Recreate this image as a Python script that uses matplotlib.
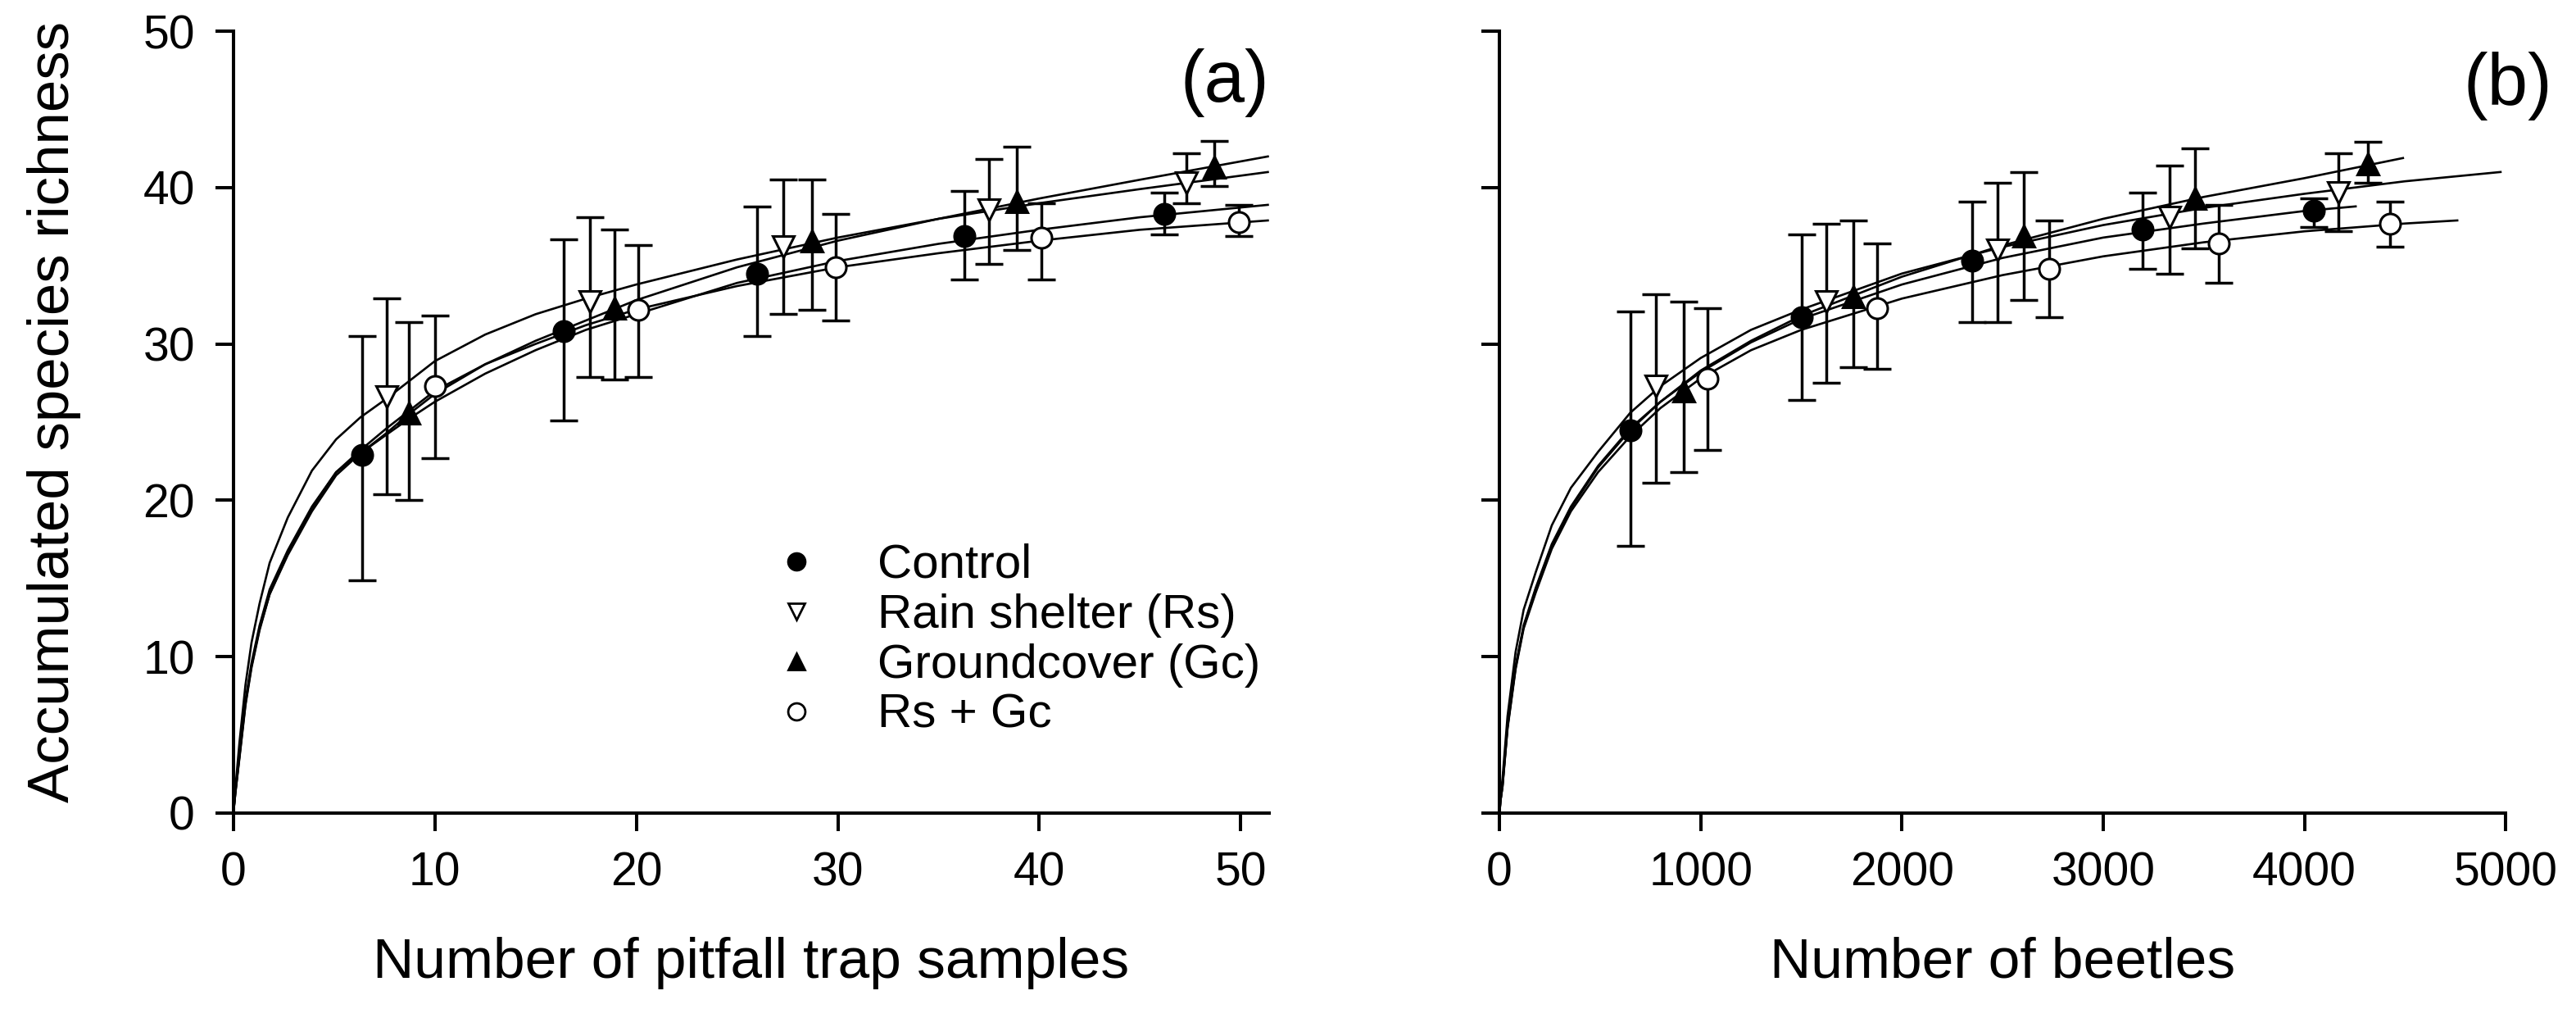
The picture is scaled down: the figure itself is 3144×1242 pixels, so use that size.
import numpy as np
import matplotlib
matplotlib.use('Agg')
import matplotlib.pyplot as plt
from matplotlib.lines import Line2D

plt.rcParams['font.family'] = ['Liberation Sans', 'DejaVu Sans']

treatments = ['Control', 'Rain shelter (Rs)', 'Groundcover (Gc)', 'Rs + Gc']

# ---- Panel (a): accumulated richness vs pitfall trap samples ----
a_x = {
    'Control': [6.4, 16.4, 26.0, 36.3, 46.2],
    'Rain shelter (Rs)': [7.6, 17.7, 27.3, 37.5, 47.3],
    'Groundcover (Gc)': [8.7, 18.9, 28.7, 38.9, 48.7],
    'Rs + Gc': [10.0, 20.1, 29.9, 40.1, 49.9],
}
a_y = {
    'Control': [22.9, 30.8, 34.5, 36.9, 38.3],
    'Rain shelter (Rs)': [26.6, 32.7, 36.2, 38.6, 40.3],
    'Groundcover (Gc)': [25.6, 32.3, 36.6, 39.1, 41.3],
    'Rs + Gc': [27.3, 32.2, 34.9, 36.8, 37.8],
}
a_lo = {
    'Control': [14.9, 25.1, 30.5, 34.1, 37.0],
    'Rain shelter (Rs)': [20.4, 27.9, 31.9, 35.1, 39.0],
    'Groundcover (Gc)': [20.0, 27.7, 32.2, 36.0, 40.1],
    'Rs + Gc': [22.7, 27.9, 31.5, 34.1, 36.9],
}
a_hi = {
    'Control': [30.5, 36.7, 38.8, 39.8, 39.7],
    'Rain shelter (Rs)': [32.9, 38.1, 40.5, 41.8, 42.2],
    'Groundcover (Gc)': [31.4, 37.3, 40.5, 42.6, 43.0],
    'Rs + Gc': [31.8, 36.3, 38.3, 39.0, 38.9],
}
# accumulation curves
a_curve_x = [0, 0.1, 0.3, 0.6, 0.9, 1.3, 1.8, 2.7, 3.9, 5.1, 6.3, 7.6, 8.7, 10,
             12.5, 15, 17.5, 20, 25, 30, 35, 40, 45, 51.4]
a_curve_y = {
    'Control': [0, 1.4, 3.7, 7.2, 9.6, 12.0, 14.3, 16.8, 19.6, 21.8, 23.0, 24.2, 25.2, 26.3,
                28.1, 29.6, 30.9, 31.9, 33.9, 35.3, 36.4, 37.3, 38.1, 38.9],
    'Rain shelter (Rs)': [0, 1.6, 4.5, 8.2, 10.9, 13.4, 16.0, 18.9, 21.9, 23.9, 25.3, 26.5, 27.6, 28.9,
                          30.6, 31.9, 32.9, 33.8, 35.4, 36.8, 38.0, 39.0, 39.9, 41.0],
    'Groundcover (Gc)': [0, 1.3, 3.6, 7.0, 9.4, 11.8, 14.0, 16.5, 19.3, 21.6, 23.0, 24.3, 25.5, 26.8,
                         28.7, 30.2, 31.5, 32.8, 34.9, 36.6, 38.0, 39.3, 40.5, 42.0],
    'Rs + Gc': [0, 1.3, 3.5, 6.9, 9.3, 11.7, 14.0, 16.6, 19.5, 21.8, 23.2, 24.6, 25.7, 27.0,
                28.7, 30.0, 31.2, 32.2, 33.7, 34.9, 35.8, 36.6, 37.3, 37.9],
}

# ---- Panel (b): accumulated richness vs number of beetles ----
b_x = {
    'Control': [650, 1500, 2350, 3195, 4045],
    'Rain shelter (Rs)': [776, 1625, 2475, 3330, 4170],
    'Groundcover (Gc)': [915, 1760, 2605, 3458, 4315],
    'Rs + Gc': [1032, 1877, 2730, 3575, 4425],
}
b_y = {
    'Control': [24.5, 31.7, 35.3, 37.3, 38.5],
    'Rain shelter (Rs)': [27.3, 32.7, 36.0, 38.1, 39.7],
    'Groundcover (Gc)': [27.0, 33.0, 36.9, 39.3, 41.5],
    'Rs + Gc': [27.8, 32.3, 34.8, 36.4, 37.7],
}
b_lo = {
    'Control': [17.1, 26.4, 31.4, 34.8, 37.5],
    'Rain shelter (Rs)': [21.1, 27.5, 31.4, 34.5, 37.2],
    'Groundcover (Gc)': [21.8, 28.5, 32.8, 36.1, 40.3],
    'Rs + Gc': [23.2, 28.4, 31.7, 33.9, 36.2],
}
b_hi = {
    'Control': [32.1, 37.0, 39.1, 39.7, 39.3],
    'Rain shelter (Rs)': [33.2, 37.7, 40.3, 41.4, 42.2],
    'Groundcover (Gc)': [32.7, 37.9, 41.0, 42.5, 42.9],
    'Rs + Gc': [32.3, 36.4, 37.9, 38.9, 39.1],
}
b_curve_x = {
    'Control': [0, 5, 15, 40, 80, 120, 180, 260, 355, 490, 650, 800, 1000, 1250, 1500,
                2000, 2500, 3000, 3500, 4000, 4260],
    'Rain shelter (Rs)': [0, 5, 15, 40, 80, 120, 180, 260, 355, 490, 650, 800, 1000, 1250, 1500,
                          2000, 2500, 3000, 3500, 4000, 4500, 4980],
    'Groundcover (Gc)': [0, 5, 15, 40, 80, 120, 180, 260, 355, 490, 650, 800, 1000, 1250, 1500,
                         2000, 2500, 3000, 3500, 4000, 4495],
    'Rs + Gc': [0, 5, 15, 40, 80, 120, 180, 260, 355, 490, 650, 800, 1000, 1250, 1500,
                2000, 2500, 3000, 3500, 4000, 4500, 4765],
}
b_curve_y = {
    'Control': [0, 0.8, 1.8, 5.6, 9.4, 12.0, 14.4, 17.2, 19.6, 22.2, 24.6, 26.3, 28.2, 30.1, 31.6,
                33.8, 35.5, 36.8, 37.7, 38.5, 38.8],
    'Rain shelter (Rs)': [0, 1.0, 2.2, 6.2, 10.3, 13.0, 15.4, 18.4, 20.8, 23.1, 25.6, 27.3, 29.1, 30.9, 32.2,
                          34.5, 36.2, 37.6, 38.7, 39.6, 40.4, 41.0],
    'Groundcover (Gc)': [0, 0.8, 1.7, 5.5, 9.3, 11.9, 14.3, 17.1, 19.5, 22.1, 24.5, 26.3, 28.3, 30.2, 31.8,
                         34.3, 36.3, 38.0, 39.4, 40.6, 41.9],
    'Rs + Gc': [0, 0.8, 1.7, 5.4, 9.2, 11.8, 14.1, 16.9, 19.3, 21.8, 24.1, 25.9, 27.8, 29.6, 30.9,
                32.9, 34.4, 35.6, 36.5, 37.2, 37.7, 37.9],
}

markers = {
    'Control': ('o', 'black', 18),
    'Rain shelter (Rs)': ('v', 'white', 19),
    'Groundcover (Gc)': ('^', 'black', 19),
    'Rs + Gc': ('o', 'white', 18),
}


def draw_panel(ax, cx, cy, px, py, lo, hi):
    for t in treatments:
        xs = cx[t] if isinstance(cx, dict) else cx
        ax.plot(xs, cy[t], color='black', lw=1.9, zorder=2, solid_capstyle='butt')
    for t in treatments:
        y = np.array(py[t])
        yerr = [y - np.array(lo[t]), np.array(hi[t]) - y]
        ax.errorbar(px[t], y, yerr=yerr, fmt='none', ecolor='black',
                    elinewidth=2.5, capsize=12, capthick=2.5, zorder=3)
        m, fc, ms = markers[t]
        ax.plot(px[t], y, linestyle='none', marker=m, markersize=ms,
                markerfacecolor=fc, markeredgecolor='black', markeredgewidth=2.2, zorder=4)
    ax.set_ylim(0, 50)
    ax.set_yticks(np.arange(0, 51, 10))
    for s in ['top', 'right']:
        ax.spines[s].set_visible(False)
    for s in ['left', 'bottom']:
        ax.spines[s].set_linewidth(2.9)
    ax.tick_params(direction='out', length=15.8, width=2.9, labelsize=41, pad=18)


fig = plt.figure(figsize=(31.44, 12.42), dpi=100)
ax_a = fig.add_axes([0.0906, 0.2013, 0.4020, 0.7681])
ax_b = fig.add_axes([0.5821, 0.2013, 0.3906, 0.7681])

draw_panel(ax_a, a_curve_x, a_curve_y, a_x, a_y, a_lo, a_hi)
ax_a.set_xlim(0, 51.4)
ax_a.set_xticks(np.arange(0, 51, 10))
ax_a.set_xlabel('Number of pitfall trap samples', fontsize=50)
ax_a.xaxis.set_label_coords(0.5, -0.158)
ax_a.set_ylabel('Accumulated species richness', fontsize=51)
ax_a.yaxis.set_label_coords(-0.147, 0.513)
ax_a.text(1.0, 0.934, '(a)', transform=ax_a.transAxes, ha='right', va='center', fontsize=64)

draw_panel(ax_b, b_curve_x, b_curve_y, b_x, b_y, b_lo, b_hi)
ax_b.set_xlim(0, 5000)
ax_b.set_xticks(np.arange(0, 5001, 1000))
ax_b.tick_params(labelleft=False)
ax_b.set_xlabel('Number of beetles', fontsize=50)
ax_b.xaxis.set_label_coords(0.5, -0.158)
ax_b.text(1.046, 0.930, '(b)', transform=ax_b.transAxes, ha='right', va='center', fontsize=64)

handles = [Line2D([], [], linestyle='none', marker=markers[t][0], markersize=15,
                  markerfacecolor=markers[t][1], markeredgecolor='black', markeredgewidth=2.0)
           for t in treatments]
ax_a.legend(handles, treatments, loc='center left', bbox_to_anchor=(0.2999, 0.3708),
            bbox_transform=fig.transFigure, frameon=False, fontsize=42,
            handlelength=1.0, handletextpad=1.2, labelspacing=0.12,
            borderpad=0, borderaxespad=0)

fig.savefig('out.png', dpi=100)
